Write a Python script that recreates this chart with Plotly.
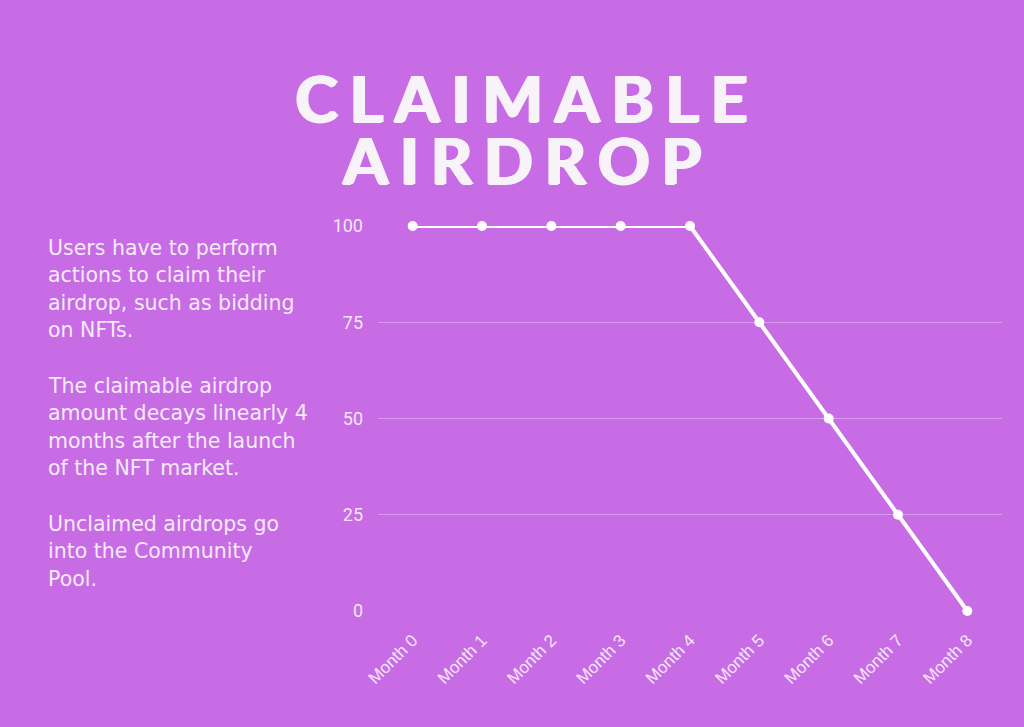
import plotly.graph_objects as go

months = ["Month 0", "Month 1", "Month 2", "Month 3", "Month 4",
          "Month 5", "Month 6", "Month 7", "Month 8"]
claimable = [100, 100, 100, 100, 100, 75, 50, 25, 0]
y_ticks = [0, 25, 50, 75, 100]

title_lines = ["CLAIMABLE", "AIRDROP"]
paragraphs = [
    ["Users have to perform", "actions to claim their", "airdrop, such as bidding", "on NFTs."],
    ["The claimable airdrop", "amount decays linearly 4", "months after the launch", "of the NFT market."],
    ["Unclaimed airdrops go", "into the Community", "Pool."],
]

BG = "#C86CE6"
W, H = 1024, 727

fig = go.Figure()
fig.add_trace(go.Scatter(
    x=months, y=claimable, mode="lines+markers",
    line=dict(color="white", width=4),
    marker=dict(color="white", size=10),
    cliponaxis=False, hoverinfo="skip",
))

fig.update_layout(
    width=W, height=H,
    paper_bgcolor=BG, plot_bgcolor=BG,
    margin=dict(l=378, r=22, t=226, b=116),
    showlegend=False,
    xaxis=dict(
        range=[-0.5, 8.5], showgrid=False, zeroline=False, showline=False,
        tickangle=-45, tickfont=dict(family="Arial", size=17, color="#F3E6F8"),
        ticks="", ticklabelstandoff=15, fixedrange=True,
    ),
    yaxis=dict(
        range=[0, 100], tickvals=y_ticks, showgrid=True,
        gridcolor="rgba(255,255,255,0.32)", gridwidth=1, zeroline=False,
        showline=False, ticks="", ticklabelstandoff=14,
        tickfont=dict(family="Roboto", size=18, color="#F3E6F8"),
        fixedrange=True,
    ),
)

# convert pixel positions to paper coordinates
pl, pr, pt, pb = 378, 22, 226, 116
pw, ph = W - pl - pr, H - pt - pb
def px(x):
    return (x - pl) / pw
def py(y):
    return (H - pb - y) / ph

def spaced(s):
    return "\u2009\u200a".join(list(s))

title_y = [97, 160]
title_x = 521
para_tops = [248, 386, 524]
line_step = 27.3
TC = "#F7F3F8"

anns = []
for t, yy in zip(title_lines, title_y):
    anns.append(dict(
        text="<b>" + spaced(t) + "</b>", xref="paper", yref="paper",
        x=px(title_x), y=py(yy), xanchor="center", yanchor="middle",
        showarrow=False,
        font=dict(family="Lato", size=64, color=TC,
                  shadow=f"1px 0px 0px {TC}, -1px 0px 0px {TC}, 0px 1px 0px {TC}, 2px 0px 0px {TC}"),
    ))
for para, top in zip(paragraphs, para_tops):
    for j, line in enumerate(para):
        anns.append(dict(
            text=line, xref="paper", yref="paper",
            x=px(46), y=py(top + j * line_step), xanchor="left", yanchor="middle",
            showarrow=False, font=dict(family="DejaVu Sans", size=20.5, color="#F5EAF8"),
        ))
fig.update_layout(annotations=anns)

fig.write_html("out.html")
